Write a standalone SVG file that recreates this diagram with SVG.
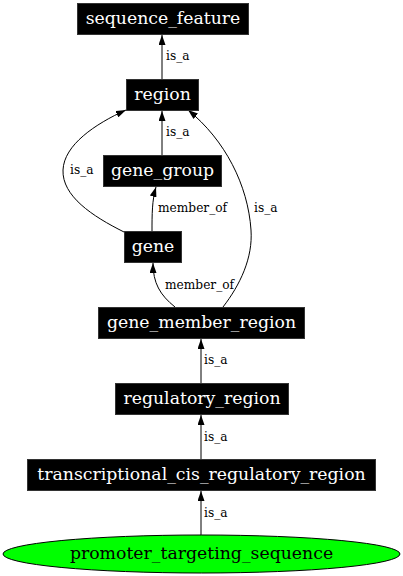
<svg xmlns="http://www.w3.org/2000/svg" width="403" height="576" viewBox="0 0 403 576">
<style>
.box{fill:#000;stroke:#333;stroke-width:1}
.nt{font-family:"DejaVu Serif","Liberation Serif",serif;font-size:17.3px;fill:#fff;text-anchor:middle}
.lt{font-family:"DejaVu Serif","Liberation Serif",serif;font-size:12.2px;fill:#000}
.e{fill:none;stroke:#000;stroke-width:1;marker-end:url(#ah)}
</style>
<defs>
<marker id="ah" markerUnits="userSpaceOnUse" viewBox="0 0 10 7" markerWidth="10" markerHeight="7" refX="10" refY="3.5" orient="auto">
<path d="M0,0 L10,3.5 L0,7 z" fill="#000"/>
</marker>
</defs>
<rect width="403" height="576" fill="#fff"/>
<g id="connectors">
<path class="e" d="M162,79 L162,35"/>
<text class="lt" x="166" y="60">is_a</text>
<path class="e" d="M162,155 L162,111"/>
<text class="lt" x="166" y="136">is_a</text>
<path class="e" d="M124,232 C92,216 62,196 63,170 C64,145 95,124 126,110"/>
<text class="lt" x="70" y="174">is_a</text>
<path class="e" d="M152,231 C152,215 152,200 156,187"/>
<text class="lt" x="158" y="212">member_of</text>
<path class="e" d="M175,307 C160,295 153,283 153,263"/>
<text class="lt" x="165" y="289">member_of</text>
<path class="e" d="M223,307 C240,285 253,258 251,230 C248,185 225,140 188,110"/>
<text class="lt" x="254" y="212">is_a</text>
<path class="e" d="M201,383 L201,339"/>
<text class="lt" x="204" y="364">is_a</text>
<path class="e" d="M201,459 L201,415"/>
<text class="lt" x="204" y="441">is_a</text>
<path class="e" d="M201,535 L201,491"/>
<text class="lt" x="204" y="517">is_a</text>
</g>
<g id="sequence_feature">
<rect class="box" x="77.5" y="3.5" width="171" height="31"/>
<text class="nt" x="163" y="24">sequence_feature</text>
</g>
<g id="region">
<rect class="box" x="126.5" y="79.5" width="72" height="31"/>
<text class="nt" x="162.5" y="100">region</text>
</g>
<g id="gene_group">
<rect class="box" x="103.5" y="155.5" width="118" height="31"/>
<text class="nt" x="162.5" y="176">gene_group</text>
</g>
<g id="gene">
<rect class="box" x="124.5" y="231.5" width="57" height="31"/>
<text class="nt" x="153" y="252">gene</text>
</g>
<g id="gene_member_region">
<rect class="box" x="98.5" y="307.5" width="206" height="31"/>
<text class="nt" x="201.5" y="328">gene_member_region</text>
</g>
<g id="regulatory_region">
<rect class="box" x="115.5" y="383.5" width="173" height="31"/>
<text class="nt" x="202" y="404">regulatory_region</text>
</g>
<g id="transcriptional_cis_regulatory_region">
<rect class="box" x="27.5" y="459.5" width="348" height="31"/>
<text class="nt" x="201.5" y="480">transcriptional_cis_regulatory_region</text>
</g>
<g id="promoter_targeting_sequence">
<ellipse cx="201.5" cy="554" rx="198.5" ry="19" fill="#00ff00" stroke="#000" stroke-width="1"/>
<text class="nt" x="201.5" y="559" style="fill:#000">promoter_targeting_sequence</text>
</g>
</svg>
